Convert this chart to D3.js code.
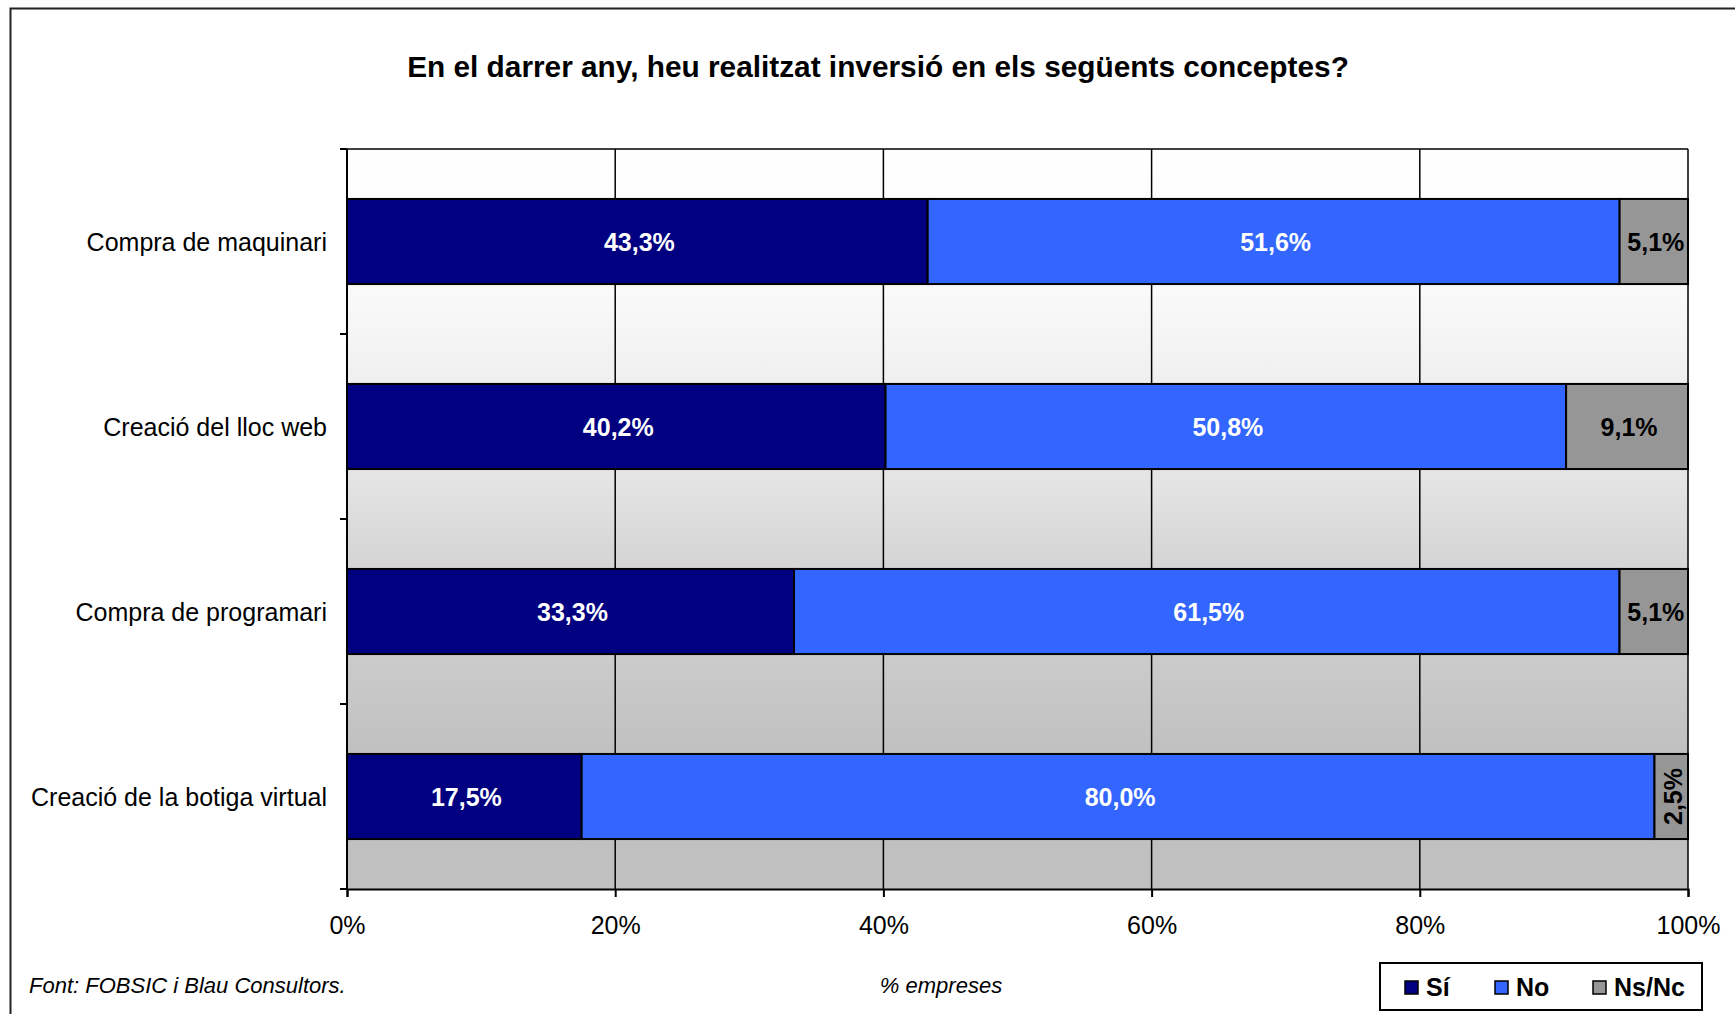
<!DOCTYPE html>
<html>
<head>
<meta charset="utf-8">
<script src="https://cdn.jsdelivr.net/npm/d3@7"></script>
<style>
  body { margin: 0; background: #fff; }
  text { font-family: "Liberation Sans", Arial, sans-serif; }
</style>
</head>
<body>
<div id="vis"></div>
<script>
var categories = ["Compra de maquinari", "Creació del lloc web", "Compra de programari", "Creació de la botiga virtual"];
var seriesNames = ["Sí", "No", "Ns/Nc"];
var siValues = [43.3, 40.2, 33.3, 17.5];
var noValues = [51.6, 50.8, 61.5, 80.0];
var nsValues = [5.1, 9.1, 5.1, 2.5];
var xTicks = [0, 20, 40, 60, 80, 100];
var colors = ["#000080", "#3366ff", "#969696"];

var W = 1735, H = 1014;
var margin = {left: 347, top: 149, right: W - 1688, bottom: H - 889};
var pw = W - margin.left - margin.right, ph = H - margin.top - margin.bottom;

var svg = d3.select("#vis").append("svg").attr("width", W).attr("height", H);

// background gradient of plot area
var defs = svg.append("defs");
var grad = defs.append("linearGradient").attr("id", "bg").attr("x1", 0).attr("y1", 0).attr("x2", 0).attr("y2", 1);
[[0, "#ffffff"], [0.2, "#f9f9f9"], [0.45, "#e4e4e4"], [0.55, "#d6d6d6"], [0.7, "#cacaca"], [0.82, "#c0c0c0"], [1, "#c0c0c0"]]
  .forEach(function(s){ grad.append("stop").attr("offset", s[0]).attr("stop-color", s[1]); });

// outer frame
svg.append("rect").attr("x", 10.5).attr("y", 8.5).attr("width", W + 20).attr("height", H + 20)
  .attr("fill", "none").attr("stroke", "#222").attr("stroke-width", 2);

svg.append("text").attr("x", 878).attr("y", 77).attr("text-anchor", "middle")
  .attr("font-size", 29.8).attr("font-weight", "bold").text("En el darrer any, heu realitzat inversió en els següents conceptes?");

var g = svg.append("g").attr("transform", "translate(" + margin.left + "," + margin.top + ")");

var x = d3.scaleLinear().domain([0, 100]).range([0, pw]);
var y = d3.scaleBand().domain(categories).range([0, ph]).paddingInner(0.54).paddingOuter(0.27);

g.append("rect").attr("width", pw).attr("height", ph).attr("fill", "url(#bg)");

// vertical gridlines
g.selectAll(".grid").data(xTicks).enter().append("line")
  .attr("x1", function(d){ return x(d); }).attr("x2", function(d){ return x(d); })
  .attr("y1", 0).attr("y2", ph).attr("stroke", "#000").attr("stroke-width", 1.5);
g.append("line").attr("x1", -7).attr("x2", pw).attr("y1", 0).attr("y2", 0).attr("stroke", "#000").attr("stroke-width", 1.5);

// stack data (100% stacked, normalised per row)
var rows = categories.map(function(c, i){
  var vals = [siValues[i], noValues[i], nsValues[i]];
  var tot = d3.sum(vals), acc = 0;
  return vals.map(function(v, k){
    var s = {cat: c, k: k, v: v, x0: acc / tot * 100};
    acc += v; s.x1 = acc / tot * 100;
    return s;
  });
});
var segs = d3.merge(rows);

g.selectAll(".seg").data(segs).enter().append("rect")
  .attr("x", function(d){ return x(d.x0); })
  .attr("y", function(d){ return y(d.cat); })
  .attr("width", function(d){ return x(d.x1) - x(d.x0); })
  .attr("height", y.bandwidth())
  .attr("fill", function(d){ return colors[d.k]; })
  .attr("stroke", "#000").attr("stroke-width", 2);

var fmt = function(v){ return v.toFixed(1).replace(".", ",") + "%"; };
g.selectAll(".lab").data(segs).enter().append("text")
  .attr("transform", function(d){
    var cx = (x(d.x0) + x(d.x1)) / 2 + 2, cy = y(d.cat) + y.bandwidth() / 2;
    return x(d.x1) - x(d.x0) < 50 ? "translate(" + (cx + 9) + "," + cy + ") rotate(-90)" : "translate(" + cx + "," + (cy + 9) + ")";
  })
  .attr("text-anchor", "middle").attr("font-size", 25).attr("font-weight", "bold")
  .attr("fill", function(d){ return d.k === 2 ? "#000" : "#fff"; })
  .text(function(d){ return fmt(d.v); });

// axes
var yAxis = g.append("g");
yAxis.append("line").attr("x1", 0).attr("x2", 0).attr("y1", 0).attr("y2", ph).attr("stroke", "#000").attr("stroke-width", 2);
var bounds = d3.range(categories.length + 1).map(function(i){ return i * y.step(); });
yAxis.selectAll(".t").data(bounds).enter().append("line")
  .attr("x1", -7).attr("x2", 0).attr("y1", function(d){ return d; }).attr("y2", function(d){ return d; })
  .attr("stroke", "#000").attr("stroke-width", 2);
yAxis.selectAll(".cl").data(categories).enter().append("text")
  .attr("x", -20).attr("y", function(d){ return y(d) + y.bandwidth() / 2 + 9; })
  .attr("text-anchor", "end").attr("font-size", 25).text(function(d){ return d; });

var xAxis = g.append("g").attr("transform", "translate(0," + ph + ")")
  .call(d3.axisBottom(x).tickValues(xTicks).tickSize(8).tickPadding(19).tickFormat(function(d){ return d + "%"; }));
xAxis.select(".domain").attr("stroke", "#000").attr("stroke-width", 2);
xAxis.selectAll(".tick line").attr("stroke", "#000").attr("stroke-width", 2);
xAxis.selectAll(".tick text").attr("font-size", 25).attr("font-family", "Liberation Sans, Arial, sans-serif").attr("fill", "#000");

svg.append("text").attr("x", 29).attr("y", 993).attr("font-size", 22).attr("font-style", "italic").text("Font: FOBSIC i Blau Consultors.");
svg.append("text").attr("x", 941).attr("y", 993).attr("text-anchor", "middle").attr("font-size", 22).attr("font-style", "italic").text("% empreses");

// legend
var leg = svg.append("g").attr("transform", "translate(1380,963)");
leg.append("rect").attr("width", 322).attr("height", 47).attr("fill", "#fff").attr("stroke", "#000").attr("stroke-width", 2);
var legX = [25, 115, 213];
var items = leg.selectAll(".li").data(seriesNames).enter().append("g")
  .attr("transform", function(d, i){ return "translate(" + legX[i] + ",0)"; });
items.append("rect").attr("x", 0).attr("y", 18).attr("width", 13).attr("height", 13)
  .attr("fill", function(d, i){ return colors[i]; }).attr("stroke", "#000").attr("stroke-width", 1.5);
items.append("text").attr("x", 21).attr("y", 33).attr("font-size", 25).attr("font-weight", "bold").text(function(d){ return d; });
</script>
</body>
</html>
